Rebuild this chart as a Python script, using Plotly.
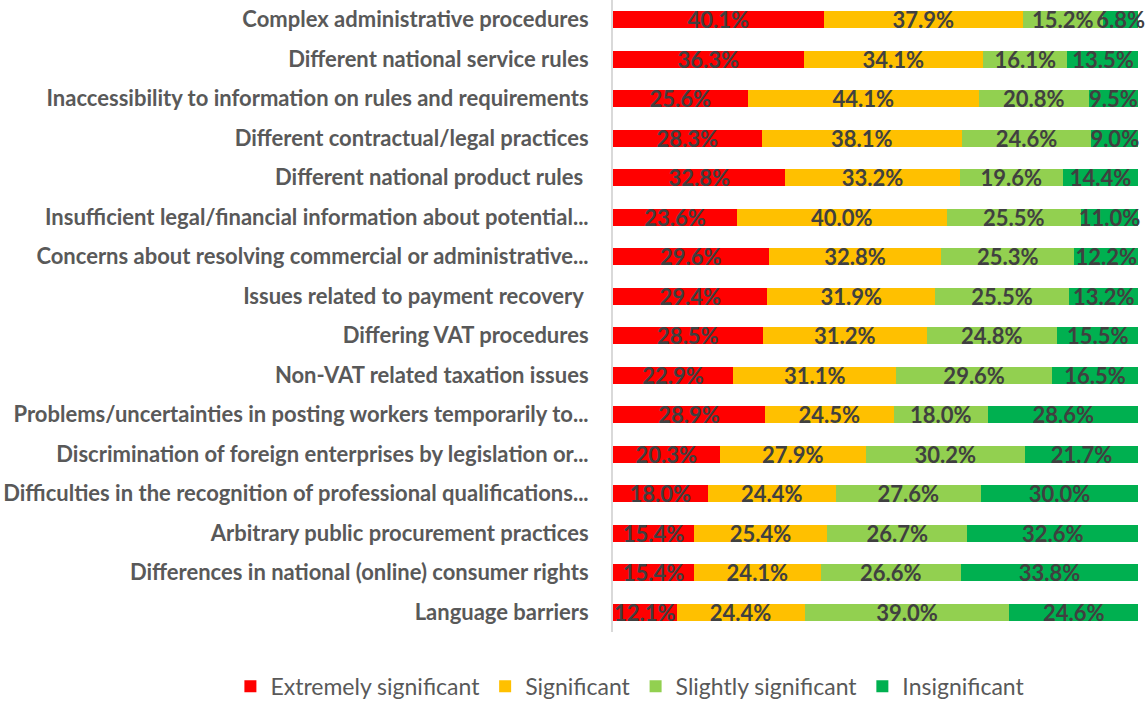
import plotly.graph_objects as go

categories = [
    "Complex administrative procedures",
    "Different national service rules",
    "Inaccessibility to information on rules and requirements",
    "Different contractual/legal practices",
    "Different national product rules ",
    "Insufficient legal/financial information about potential...",
    "Concerns about resolving commercial or administrative...",
    "Issues related to payment recovery ",
    "Differing VAT procedures",
    "Non-VAT related taxation issues",
    "Problems/uncertainties in posting workers temporarily to...",
    "Discrimination of foreign enterprises by legislation or...",
    "Difficulties in the recognition of professional qualifications...",
    "Arbitrary public procurement practices",
    "Differences in national (online) consumer rights",
    "Language barriers",
]

extremely = [40.1, 36.3, 25.6, 28.3, 32.8, 23.6, 29.6, 29.4, 28.5, 22.9, 28.9, 20.3, 18.0, 15.4, 15.4, 12.1]
significant = [37.9, 34.1, 44.1, 38.1, 33.2, 40.0, 32.8, 31.9, 31.2, 31.1, 24.5, 27.9, 24.4, 25.4, 24.1, 24.4]
slightly = [15.2, 16.1, 20.8, 24.6, 19.6, 25.5, 25.3, 25.5, 24.8, 29.6, 18.0, 30.2, 27.6, 26.7, 26.6, 39.0]
insignificant = [6.8, 13.5, 9.5, 9.0, 14.4, 11.0, 12.2, 13.2, 15.5, 16.5, 28.6, 21.7, 30.0, 32.6, 33.8, 24.6]

series_names = ["Extremely significant", "Significant", "Slightly significant", "Insignificant"]
series_values = [extremely, significant, slightly, insignificant]
colors = ["#FF0000", "#FFC000", "#92D050", "#00B050"]

fig = go.Figure()
for name, vals, col in zip(series_names, series_values, colors):
    fig.add_trace(go.Bar(
        y=categories,
        x=vals,
        name=name,
        orientation="h",
        marker=dict(color=col, line=dict(width=0)),
        text=[f"{v:.1f}%" for v in vals],
        textposition="inside",
        insidetextanchor="middle",
        constraintext="none",
        textangle=0,
        textfont=dict(family="Lato", size=22, color="#404040", weight="bold"),
        cliponaxis=False,
    ))

fig.update_layout(
    barmode="stack",
    barnorm="percent",
    bargap=0.57,
    width=1147,
    height=704,
    margin=dict(l=613, r=7, t=0, b=72, autoexpand=False),
    plot_bgcolor="white",
    paper_bgcolor="white",
    showlegend=True,
    legend=dict(
        orientation="h",
        x=-0.726, xanchor="left",
        y=-0.052, yanchor="top",
        font=dict(family="Lato", size=23, color="#595959"),
        traceorder="normal",
        itemwidth=30,
    ),
    xaxis=dict(visible=False, range=[0, 100.3], fixedrange=True),
    yaxis=dict(
        autorange="reversed",
        automargin=False,
        showline=True,
        linecolor="#D9D9D9",
        linewidth=2,
        ticks="",
        ticklabelstandoff=18,
        tickfont=dict(family="Lato", size=22, color="#595959", weight="bold"),
        showgrid=False,
    ),
)

fig.write_html("out.html", config={"displayModeBar": False},
               post_script="document.body.style.margin='0px';")
